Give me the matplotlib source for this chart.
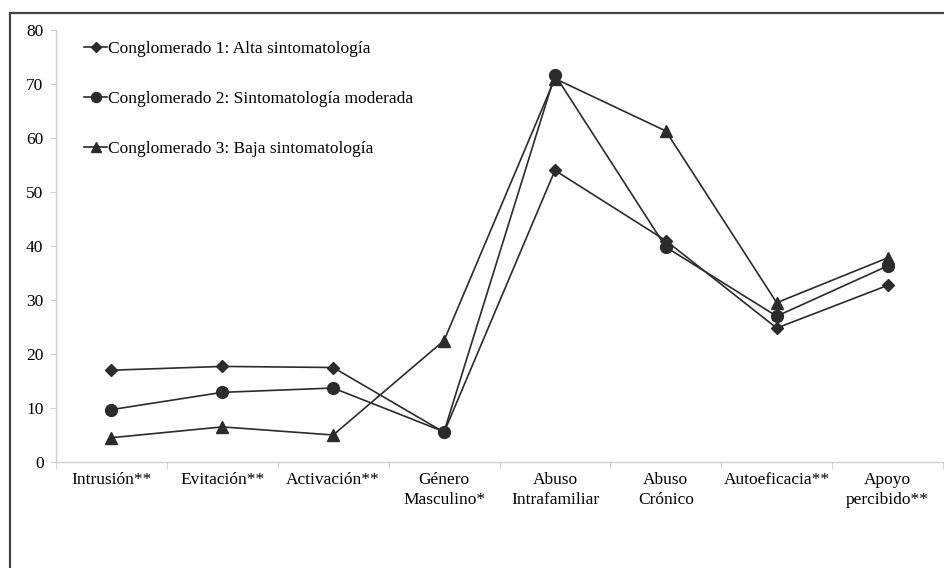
import numpy as np
import matplotlib.pyplot as plt
from matplotlib.patches import Rectangle

# ─── Data ────────────────────────────────────────────────────────
categories = [
    "Intrusión**", "Evitación**", "Activación**", "Género\nMasculino*",
    "Abuso\nIntrafamiliar", "Abuso\nCrónico", "Autoeficacia**", "Apoyo\npercibido**",
]
cluster1 = [17.0, 17.7, 17.5, 5.5, 54.0, 41.0, 24.8, 32.7]
cluster2 = [9.7, 12.9, 13.7, 5.6, 71.7, 39.8, 27.0, 36.3]
cluster3 = [4.5, 6.5, 5.0, 22.5, 71.0, 61.3, 29.5, 37.8]
labels = [
    "Conglomerado 1: Alta sintomatología",
    "Conglomerado 2: Sintomatología moderada",
    "Conglomerado 3: Baja sintomatología",
]
y_ticks = [0, 10, 20, 30, 40, 50, 60, 70, 80]

plt.rcParams["font.family"] = ["Liberation Serif", "DejaVu Serif"]
FS = 12.5

W, H = 944, 568
fig = plt.figure(figsize=(W / 100, H / 100), dpi=100)
ax = fig.add_axes([56 / W, (H - 462) / H, (943 - 56) / W, (462 - 30) / H])

x = np.arange(len(categories))
line_kw = dict(color="#2b2b2b", linewidth=1.2)
ax.plot(x, cluster1, marker="D", markersize=6.5, label=labels[0], **line_kw)
ax.plot(x, cluster2, marker="o", markersize=8.5, label=labels[1], **line_kw)
ax.plot(x, cluster3, marker="^", markersize=8.5, label=labels[2], **line_kw)

ax.set_xlim(-0.5, len(categories) - 0.5)
ax.set_ylim(0, 80)
ax.set_yticks(y_ticks)
ax.tick_params(axis="y", labelsize=FS, length=4, color="#cfcfcf", pad=5)

ax.set_xticks(x)
ax.set_xticklabels(categories, fontsize=FS, linespacing=1.35, va="top")
ax.set_xticks(np.arange(len(categories) + 1) - 0.5, minor=True)
ax.tick_params(axis="x", which="major", length=0, pad=7)
ax.tick_params(axis="x", which="minor", length=5, color="#cfcfcf")

for side in ["top", "right"]:
    ax.spines[side].set_visible(False)
for side in ["left", "bottom"]:
    ax.spines[side].set_color("#cfcfcf")
    ax.spines[side].set_linewidth(1.0)

leg = ax.legend(loc="upper left", bbox_to_anchor=(0.024, 0.99), frameon=False,
                fontsize=FS, handlelength=1.3, handletextpad=0.05,
                labelspacing=1.95, borderaxespad=0, markerscale=0.85)

# outer frame (only top and left edges are visible in the reference)
frame = Rectangle((10 / W, -0.05), 1.2, (H - 13) / H + 0.05,
                  transform=fig.transFigure, fill=False,
                  edgecolor="#444444", linewidth=1.6, clip_on=False)
fig.patches.append(frame)

fig.savefig("out.png", dpi=100)
